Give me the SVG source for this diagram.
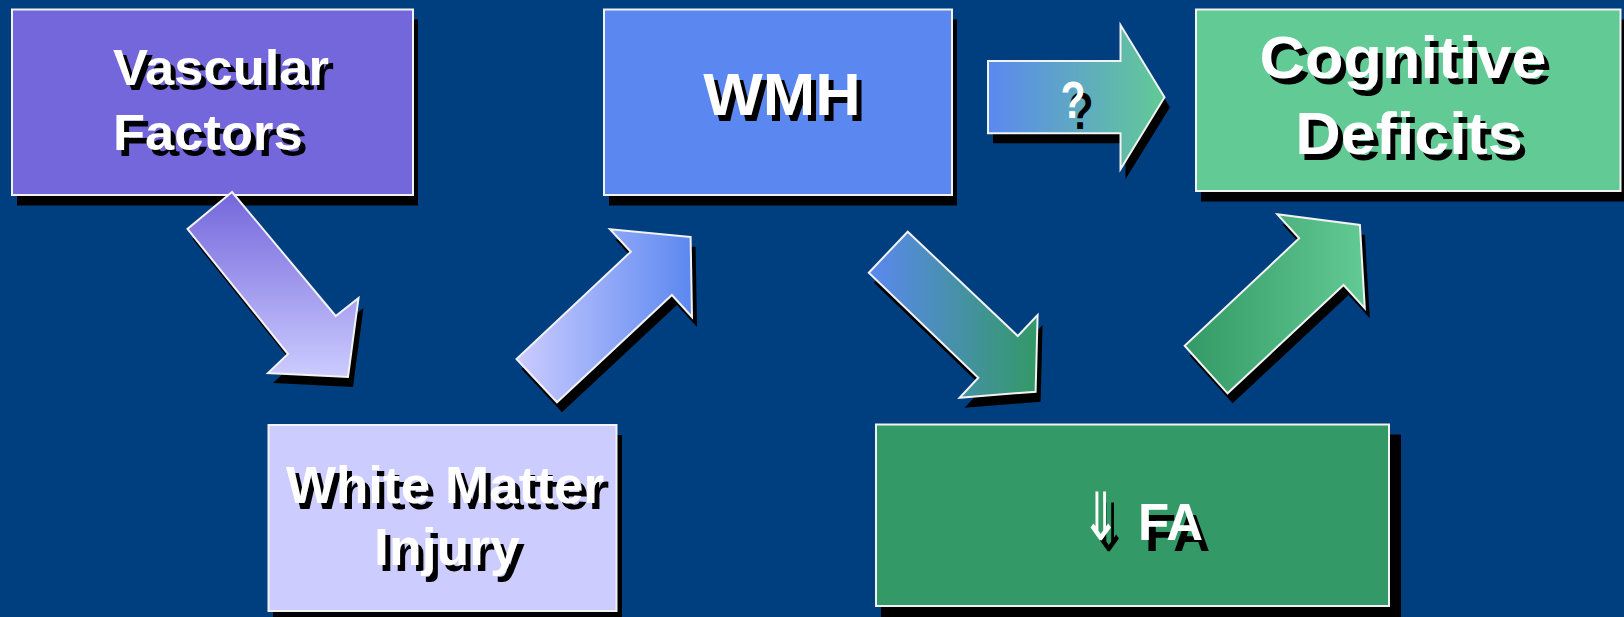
<svg xmlns="http://www.w3.org/2000/svg" width="1624" height="617" viewBox="0 0 1624 617">
<style>
.bg{fill:#003F7F}
.box{stroke:#F2F2F2;stroke-width:2}
.sh{fill:#000000}
.arr{stroke:#F2F2F2;stroke-width:2;stroke-linejoin:miter}
.t{font-family:"Liberation Sans",Arial,sans-serif;font-weight:bold;fill:#FFFFFF}
.ts{font-family:"Liberation Sans",Arial,sans-serif;font-weight:bold;fill:#000000}
.sym{font-family:"DejaVu Sans",sans-serif;font-weight:normal;fill:#FFFFFF}
.syms{font-family:"DejaVu Sans",sans-serif;font-weight:normal;fill:#000000}
</style>
<defs>
<linearGradient id="g1" gradientUnits="userSpaceOnUse" x1="0" y1="192" x2="0" y2="377">
<stop offset="0" stop-color="#7466DB"/><stop offset="1" stop-color="#CCCCFF"/>
</linearGradient>
<linearGradient id="g2" gradientUnits="userSpaceOnUse" x1="516" y1="0" x2="692" y2="0">
<stop offset="0" stop-color="#CCCCFF"/><stop offset="1" stop-color="#5B88F0"/>
</linearGradient>
<linearGradient id="g3" gradientUnits="userSpaceOnUse" x1="988" y1="0" x2="1164" y2="0">
<stop offset="0" stop-color="#5B88F0"/><stop offset="1" stop-color="#62CA95"/>
</linearGradient>
<linearGradient id="g4" gradientUnits="userSpaceOnUse" x1="869" y1="0" x2="1038" y2="0">
<stop offset="0" stop-color="#5B88F0"/><stop offset="1" stop-color="#339966"/>
</linearGradient>
<linearGradient id="g5" gradientUnits="userSpaceOnUse" x1="1185" y1="0" x2="1365" y2="0">
<stop offset="0" stop-color="#339966"/><stop offset="1" stop-color="#62CA95"/>
</linearGradient>
</defs>
<rect class="bg" x="0" y="0" width="1624" height="617"/>

<g id="vascular-factors">
<rect class="sh" x="17" y="19.5" width="401" height="186"/>
<rect class="box" x="12" y="9.5" width="401" height="185.5" fill="#7466DB"/>
<text class="ts" font-size="50" transform="translate(118,90) scale(1.05,1)">Vascular</text>
<text class="t" font-size="50" transform="translate(113,84.5) scale(1.05,1)">Vascular</text>
<text class="ts" font-size="50" transform="translate(118,155.5) scale(1.05,1)">Factors</text>
<text class="t" font-size="50" transform="translate(113,150) scale(1.05,1)">Factors</text>
</g>

<g id="wmh">
<rect class="sh" x="609" y="19.5" width="348" height="186"/>
<rect class="box" x="604" y="9.5" width="348" height="185.5" fill="#5B88F0"/>
<text class="ts" font-size="60" text-anchor="middle" transform="translate(787,120.5) scale(1.05,1)">WMH</text>
<text class="t" font-size="60" text-anchor="middle" transform="translate(782,115) scale(1.05,1)">WMH</text>
</g>

<g id="cognitive-deficits">
<rect class="sh" x="1201" y="19.5" width="430" height="182"/>
<rect class="box" x="1196" y="9.5" width="424.5" height="181.5" fill="#62CA95"/>
<text class="ts" font-size="60" text-anchor="middle" transform="translate(1408,83.5) scale(1.05,1)">Cognitive</text>
<text class="t" font-size="60" text-anchor="middle" transform="translate(1403,78) scale(1.05,1)">Cognitive</text>
<text class="ts" font-size="60" text-anchor="middle" transform="translate(1414,159.5) scale(1.05,1)">Deficits</text>
<text class="t" font-size="60" text-anchor="middle" transform="translate(1409,154) scale(1.05,1)">Deficits</text>
</g>

<g id="white-matter-injury">
<rect class="sh" x="273" y="435" width="349" height="190"/>
<rect class="box" x="268.5" y="425" width="348" height="186" fill="#CCCCFF"/>
<text class="ts" font-size="52" text-anchor="middle" transform="translate(450,508.5) scale(1.02,1)">White Matter</text>
<text class="t" font-size="52" text-anchor="middle" transform="translate(445,503) scale(1.02,1)">White Matter</text>
<text class="ts" font-size="52" text-anchor="middle" transform="translate(452,570.5) scale(1.03,1)">Injury</text>
<text class="t" font-size="52" text-anchor="middle" transform="translate(447,565) scale(1.03,1)">Injury</text>
</g>

<g id="decreased-fa">
<rect class="sh" x="881" y="434.5" width="520" height="190"/>
<rect class="box" x="876" y="424.5" width="513" height="181.5" fill="#339966"/>
<text class="syms" font-size="50" text-anchor="middle" transform="translate(1109,551) scale(0.95,1.33)">⇓</text>
<text class="sym" font-size="50" text-anchor="middle" transform="translate(1101,540) scale(0.95,1.33)">⇓</text>
<text class="ts" font-size="51" x="1145" y="550.5">FA</text>
<text class="t" font-size="51" x="1138" y="539.5">FA</text>
</g>

<g id="connectors">
<polygon class="sh" points="237,202 192.5,239 293,364 273,383 353,387 363.5,308 340.7,326"/>
<polygon class="arr" fill="url(#g1)" points="232,192 187.5,229 288,354 268,373 348,377 358.5,298 335.7,316"/>

<polygon class="sh" points="695.6,247 615,239.3 635.8,261.7 521.5,369 562,412.3 676.9,305 697,327"/>
<polygon class="arr" fill="url(#g2)" points="690.6,237 610,229.3 630.8,251.7 516.5,359 557,402.3 671.9,295 692,317"/>

<polygon class="sh" points="993,71 1125.5,71 1125.5,35 1170,107.3 1125.5,179.3 1125.5,143.3 993,143.3"/>
<polygon class="arr" fill="url(#g3)" points="988,61 1120.5,61 1120.5,25 1164.5,97.3 1120.5,169.3 1120.5,133.3 988,133.3"/>
<text class="ts" font-size="51" transform="translate(1081,129) scale(0.8,1)" text-anchor="middle">?</text>
<text class="t" font-size="51" transform="translate(1073,117.5) scale(0.8,1)" text-anchor="middle">?</text>

<polygon class="sh" points="912.7,241.7 873.8,282.7 983.3,387.7 964.6,407.7 1040.6,401.7 1042.6,325 1022.8,346"/>
<polygon class="arr" fill="url(#g4)" points="907.7,231.7 868.8,272.7 978.3,377.7 959.6,397.7 1035.6,391.7 1037.6,315 1017.8,336"/>

<polygon class="sh" points="1282.4,224.3 1364.9,235 1369.8,318.3 1348.6,295 1232.6,403.3 1189.7,355.7 1304.2,248.3"/>
<polygon class="arr" fill="url(#g5)" points="1277.4,214.3 1359.9,225 1364.8,308.3 1343.6,285 1227.6,393.3 1184.7,345.7 1299.2,238.3"/>
</g>
</svg>
